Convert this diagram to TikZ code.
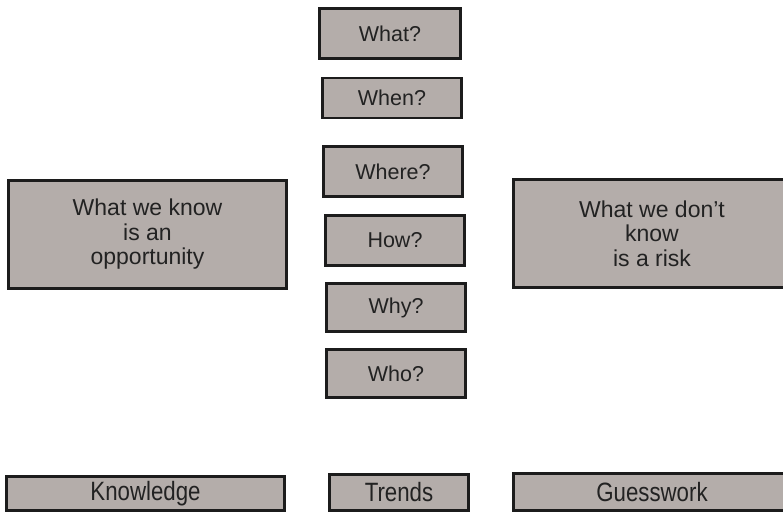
\documentclass[tikz,border=0pt]{standalone}
\usepackage{graphicx}
\usepackage{fontspec}
\setmainfont{Liberation Sans}
\definecolor{boxfill}{HTML}{B4ADAA}
\definecolor{boxline}{HTML}{1C1C1C}
\definecolor{boxtext}{HTML}{222222}
% condensed label used in the bottom row
\newcommand\narrowlabel[1]{\scalebox{0.84}[1]{#1}}
\begin{document}
\begin{tikzpicture}[x=1bp,y=-1bp,
  card/.style={draw=boxline, fill=boxfill, line width=2.6bp, inner sep=0pt,
    align=center, text=boxtext, font=\fontsize{21.5bp}{25bp}\selectfont},
  bigcard/.style={card, font=\fontsize{23bp}{24.5bp}\selectfont},
  tag/.style={card, font=\fontsize{26.5bp}{28bp}\selectfont},
]
\useasboundingbox (0,0) rectangle (783,514);
\clip (0,0) rectangle (783,514);

% central column of questions
\node[card, minimum width=141.4bp, minimum height=50.4bp] (what)  at (390,33.5)  {What?};
\node[card, minimum width=139.4bp, minimum height=40bp]   (when)  at (392,98)    {When?};
\node[card, minimum width=139.4bp, minimum height=50.4bp] (where) at (393,171.5) {Where?};
\node[card, minimum width=139.4bp, minimum height=50.4bp] (how)   at (395,240.5) {How?};
\node[card, minimum width=139.4bp, minimum height=48.4bp] (why)   at (396,307.5) {Why?};
\node[card, minimum width=139.4bp, minimum height=48.4bp] (who)   at (396,373.5) {Who?};

% side statements
\node[bigcard, minimum width=278.4bp, minimum height=108.4bp] (known)   at (147.5,234.5)
  {What we know\\is an\\opportunity};
\node[bigcard, minimum width=277.4bp, minimum height=108.4bp] (unknown) at (652,233.5)
  {What we don’t\\know\\is a risk};

% bottom row
\node[tag, minimum width=278.4bp, minimum height=34.4bp] (knowledge) at (145.5,493.5) {\narrowlabel{Knowledge}};
\node[tag, minimum width=139.4bp, minimum height=36.4bp] (trends)    at (399,492.5)   {\narrowlabel{Trends}};
\node[tag, minimum width=277.4bp, minimum height=37.4bp] (guess)     at (652,492)     {\narrowlabel{Guesswork}};
\end{tikzpicture}
\end{document}
